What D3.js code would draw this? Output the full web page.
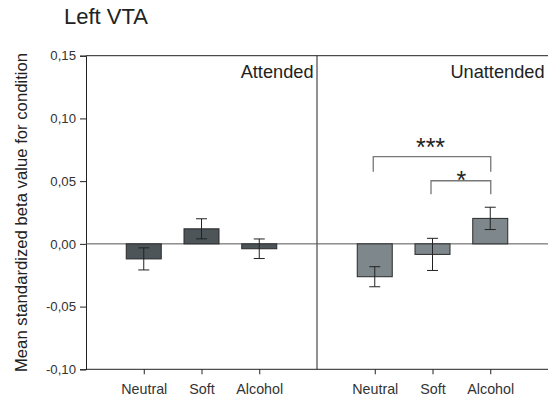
<!DOCTYPE html>
<html><head><meta charset="utf-8">
<script src="https://cdn.jsdelivr.net/npm/d3@7/dist/d3.min.js"></script>
<style>body{margin:0;background:#fff}svg{display:block;font-family:"Liberation Sans",Arial,sans-serif}</style>
</head><body><svg id="c" width="548" height="399"></svg>
<script>
const panels = ["Attended", "Unattended"];
const categories = ["Neutral", "Soft", "Alcohol"];
const attendedMeans = [-0.012, 0.012, -0.0039];
const attendedErr = [0.0088, 0.008, 0.0078];
const unattendedMeans = [-0.0262, -0.0084, 0.0203];
const unattendedErr = [0.008, 0.0128, 0.0089];
const yTicks = [-0.10, -0.05, 0.00, 0.05, 0.10, 0.15];
const sigBrackets = [
  {from: "Neutral", to: "Alcohol", level: 0.0695, label: "***"},
  {from: "Soft", to: "Alcohol", level: 0.0503, label: "*"}
];

(function () {
const FONT = "Liberation Sans, Arial, sans-serif";
const svg = d3.select("#c");
const pLeft = 86, pTop = 55.7, pBottom = 369.3, panelW = 231;
const y = d3.scaleLinear().domain([-0.10, 0.15]).range([pBottom, pTop]);
const fmt = v => d3.format(".2f")(v).replace(".", ",").replace("−", "-");

svg.append("text").attr("x", 64).attr("y", 24).attr("font-size", 22).attr("fill", "#222").text("Left VTA");

svg.append("text")
  .attr("transform", `translate(27,${(pTop + pBottom) / 2}) rotate(-90)`)
  .attr("text-anchor", "middle").attr("font-size", 16.7).attr("fill", "#222")
  .text("Mean standardized beta value for condition");

const yAxis = svg.append("g").attr("transform", `translate(${pLeft},0)`)
  .call(d3.axisLeft(y).tickValues(yTicks).tickFormat(fmt).tickSize(6).tickPadding(4));
yAxis.attr("font-size", 13.2).attr("font-family", FONT);
yAxis.select(".domain").attr("stroke", "#222");
yAxis.selectAll(".tick line").attr("stroke", "#222");
yAxis.selectAll("text").attr("fill", "#333");

svg.append("line").attr("x1", pLeft).attr("x2", 548).attr("y1", pTop).attr("y2", pTop).attr("stroke", "#222");
svg.append("line").attr("x1", pLeft).attr("x2", 548).attr("y1", pBottom).attr("y2", pBottom).attr("stroke", "#222");
svg.append("line").attr("x1", pLeft + panelW).attr("x2", pLeft + panelW).attr("y1", pTop).attr("y2", pBottom).attr("stroke", "#222");
svg.append("line").attr("x1", pLeft).attr("x2", 548).attr("y1", y(0)).attr("y2", y(0)).attr("stroke", "#555");

const data = [
  {name: panels[0], means: attendedMeans, errs: attendedErr, fill: "#4d5559"},
  {name: panels[1], means: unattendedMeans, errs: unattendedErr, fill: "#7e878b"}
];

data.forEach((p, i) => {
  const x0 = pLeft + i * panelW;
  const x = d3.scalePoint().domain(categories).range([x0, x0 + panelW]).padding(1);
  const g = svg.append("g");
  const xAxis = g.append("g").attr("transform", `translate(0,${pBottom})`)
    .call(d3.axisBottom(x).tickSize(5).tickPadding(10));
  xAxis.attr("font-size", 14.3).attr("font-family", FONT);
  xAxis.select(".domain").remove();
  xAxis.selectAll(".tick line").attr("stroke", "#222");
  xAxis.selectAll("text").attr("fill", "#333");

  g.append("text").attr("x", x0 + panelW - 3.5).attr("y", pTop + 21.8)
    .attr("text-anchor", "end").attr("font-size", 18.2).attr("fill", "#222").text(p.name);

  const bw = 35;
  categories.forEach((c, j) => {
    const v = p.means[j], e = p.errs[j], cx = x(c);
    g.append("rect").attr("x", cx - bw / 2).attr("width", bw)
      .attr("y", y(Math.max(0, v))).attr("height", Math.abs(y(v) - y(0)))
      .attr("fill", p.fill).attr("stroke", "#2a2a2a").attr("stroke-width", 1);
    const eg = g.append("g").attr("stroke", "#222").attr("stroke-width", 1);
    eg.append("line").attr("x1", cx).attr("x2", cx).attr("y1", y(v + e)).attr("y2", y(v - e));
    eg.append("line").attr("x1", cx - 5.5).attr("x2", cx + 5.5).attr("y1", y(v + e)).attr("y2", y(v + e));
    eg.append("line").attr("x1", cx - 5.5).attr("x2", cx + 5.5).attr("y1", y(v - e)).attr("y2", y(v - e));
  });

  if (i === 1) {
    const legLen = [15, 13.5], labelDy = [-1, 8], labelDx = [-2, 0];
    sigBrackets.forEach((b, k) => {
      const yy = y(b.level), x1 = x(b.from), x2 = x(b.to);
      const legEnd = yy + legLen[k];
      g.append("path").attr("d", `M${x1 - 1.5},${legEnd}V${yy}H${x2 + 0.5}V${legEnd}`)
        .attr("fill", "none").attr("stroke", "#777").attr("stroke-width", 1.3);
      g.append("text").attr("x", (x1 + x2) / 2 + labelDx[k]).attr("y", yy + labelDy[k])
        .attr("text-anchor", "middle").attr("font-size", 25).attr("fill", "#222").text(b.label);
    });
  }
});
})();
</script></body></html>
